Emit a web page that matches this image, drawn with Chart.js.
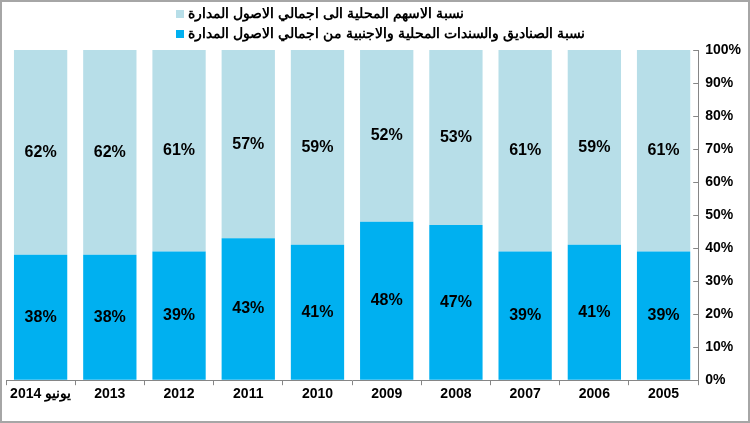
<!DOCTYPE html>
<html>
<head>
<meta charset="utf-8">
<script src="https://cdn.jsdelivr.net/npm/chart.js@4/dist/chart.umd.min.js"></script>
<style>
  html, body { margin: 0; padding: 0; background: #fff; }
  #wrap { position: relative; width: 750px; height: 423px; box-sizing: border-box; border: 2px solid #a6a6a6; }
  #legend { position: absolute; left: 174px; top: 1px; font: bold 14.3px "Liberation Sans", Arial, sans-serif; color: #000; }
  #legend div { height: 20px; line-height: 20px; white-space: nowrap; }
  #legend span.box { display: inline-block; width: 8px; height: 8px; margin-right: 4px; vertical-align: middle; }
  canvas { position: absolute; left: 0; top: 0; }
</style>
</head>
<body>
<div id="wrap">
  <canvas id="barChart" width="746" height="419"></canvas>
  <div id="legend"></div>
</div>
<script>
const categories = ['يونيو 2014', '2013', '2012', '2011', '2010', '2009', '2008', '2007', '2006', '2005'];
const fundsShare = [38, 38, 39, 43, 41, 48, 47, 39, 41, 39];
const stocksShare = [62, 62, 61, 57, 59, 52, 53, 61, 59, 61];
const yTicks = [0, 10, 20, 30, 40, 50, 60, 70, 80, 90, 100];

const stocksLabel = 'نسبة الاسهم المحلية الى اجمالي الاصول المدارة';
const fundsLabel = 'نسبة الصناديق والسندات المحلية والاجنبية من اجمالي الاصول المدارة';
const lightBlue = '#b7dee8';
const darkBlue = '#00b0f0';

// legend (left aligned block, like the original)
const legendEl = document.getElementById('legend');
[[stocksLabel, lightBlue], [fundsLabel, darkBlue]].forEach(([txt, col]) => {
  const row = document.createElement('div');
  row.innerHTML = '<span class="box" style="background:' + col + '"></span>' + txt;
  legendEl.appendChild(row);
});

// percentage labels in the middle of every segment
const segmentLabels = {
  id: 'segmentLabels',
  afterDatasetsDraw(chart) {
    const c = chart.ctx;
    c.save();
    c.font = 'bold 16px "Liberation Sans", Arial, sans-serif';
    c.fillStyle = '#000';
    c.textAlign = 'center';
    c.textBaseline = 'middle';
    chart.data.datasets.forEach((ds, i) => {
      chart.getDatasetMeta(i).data.forEach((bar, j) => {
        c.fillText(ds.data[j] + '%', bar.x, (bar.y + bar.base) / 2);
      });
    });
    c.restore();
  }
};

// short tick marks on the inner side of the right axis
const innerTicks = {
  id: 'innerTicks',
  afterDraw(chart) {
    const y = chart.scales.y;
    const c = chart.ctx;
    c.save();
    c.strokeStyle = '#868686';
    c.lineWidth = 1;
    yTicks.forEach(v => {
      const py = Math.round(y.getPixelForValue(v)) + 0.5;
      c.beginPath();
      c.moveTo(chart.chartArea.right - 5, py);
      c.lineTo(chart.chartArea.right, py);
      c.stroke();
    });
    c.restore();
  }
};

const ctx = document.getElementById('barChart').getContext('2d');
const barChart = new Chart(ctx, {
  type: 'bar',
  data: {
    labels: categories,
    datasets: [{
      label: fundsLabel,
      data: fundsShare,
      backgroundColor: darkBlue,
      barPercentage: 0.77,
      categoryPercentage: 1
    }, {
      label: stocksLabel,
      data: stocksShare,
      backgroundColor: lightBlue,
      barPercentage: 0.77,
      categoryPercentage: 1
    }]
  },
  options: {
    responsive: false,
    animation: false,
    layout: { padding: { top: 48, left: 4, right: 0, bottom: 17 } },
    plugins: {
      legend: { display: false },
      tooltip: { enabled: false }
    },
    scales: {
      x: {
        stacked: true,
        grid: { display: true, drawOnChartArea: false, tickLength: 5, color: '#868686' },
        border: { color: '#868686' },
        ticks: {
          color: '#000',
          padding: 1,
          maxRotation: 0,
          font: { family: '"Liberation Sans", Arial, sans-serif', size: 14, weight: 'bold' }
        }
      },
      y: {
        stacked: true,
        position: 'right',
        min: 0,
        max: 100,
        afterBuildTicks: axis => { axis.ticks = yTicks.map(v => ({ value: v })); },
        grid: { drawOnChartArea: false, drawTicks: false },
        border: { color: '#868686' },
        ticks: {
          color: '#000',
          padding: 7,
          callback: v => v + '%',
          font: { family: '"Liberation Sans", Arial, sans-serif', size: 14, weight: 'bold' }
        }
      }
    }
  },
  plugins: [segmentLabels, innerTicks]
});
</script>
</body>
</html>
